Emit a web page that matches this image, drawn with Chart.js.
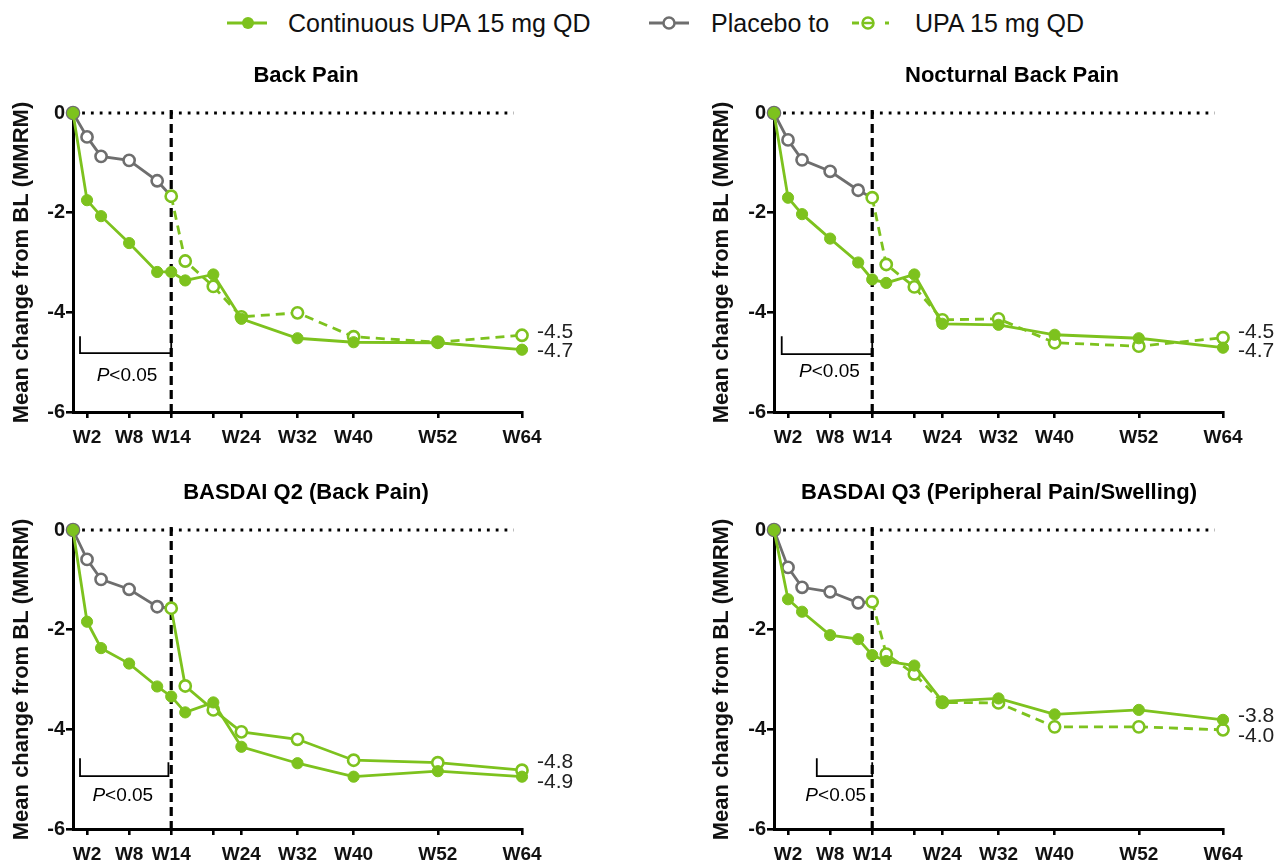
<!DOCTYPE html>
<html>
<head>
<meta charset="utf-8">
<script src="https://cdn.jsdelivr.net/npm/chart.js@4.4.1/dist/chart.umd.min.js"></script>
<style>
  body { margin: 0; background: #fff; font-family: "Liberation Sans", Arial, sans-serif; }
  #page { position: relative; width: 1282px; height: 865px; overflow: hidden; }
  .box { position: absolute; }
  .lg { position: absolute; font-size: 25px; color: #111; line-height: 30px; top: 8px; white-space: nowrap; }
  .ic { position: absolute; top: 13px; }
</style>
</head>
<body>
<div id="page">
  <svg class="ic" style="left:222px" width="50" height="20">
    <line x1="5" y1="10" x2="45" y2="10" stroke="#7dc21e" stroke-width="3"/>
    <circle cx="26" cy="10" r="6" fill="#7dc21e"/>
  </svg>
  <div class="lg" style="left:288px">Continuous UPA 15 mg QD</div>
  <svg class="ic" style="left:644px" width="50" height="20">
    <line x1="5" y1="10" x2="45" y2="10" stroke="#6e6e6e" stroke-width="3"/>
    <circle cx="25" cy="10" r="5.5" fill="#fff" stroke="#6e6e6e" stroke-width="2.5"/>
  </svg>
  <div class="lg" style="left:711px">Placebo to</div>
  <svg class="ic" style="left:846px" width="50" height="20">
    <line x1="6" y1="10" x2="13" y2="10" stroke="#7dc21e" stroke-width="3"/>
    <line x1="39" y1="10" x2="43" y2="10" stroke="#7dc21e" stroke-width="3"/>
    <circle cx="22" cy="10" r="5.5" fill="#fff" stroke="#7dc21e" stroke-width="2.5"/>
    <line x1="17" y1="10" x2="27" y2="10" stroke="#7dc21e" stroke-width="2.5"/>
  </svg>
  <div class="lg" style="left:915px">UPA 15 mg QD</div>

  <div class="box" style="left:0px;top:50px"><canvas id="c1" width="596" height="400"></canvas></div>
  <div class="box" style="left:700px;top:50px"><canvas id="c2" width="582" height="400"></canvas></div>
  <div class="box" style="left:0px;top:467px"><canvas id="c3" width="596" height="398"></canvas></div>
  <div class="box" style="left:700px;top:467px"><canvas id="c4" width="582" height="398"></canvas></div>
</div>
<script>
// study weeks where values were measured
var weeks = [0, 2, 4, 8, 12, 14, 16, 20, 24, 32, 40, 52, 64];
var placeboWeeks = weeks.slice(0, 6);   // BL .. W14
var switchWeeks = weeks.slice(5);       // W14 .. W64

var xTickWeeks = [2, 8, 14, 20, 24, 32, 40, 52, 64];
var xTickLabels = ["W2", "W8", "W14", "", "W24", "W32", "W40", "W52", "W64"];
var yTicks = [0, -2, -4, -6];

// Back Pain
var backCont = [0, -1.75, -2.07, -2.61, -3.19, -3.19, -3.36, -3.24, -4.13, -4.52, -4.60, -4.61, -4.75];
var backPbo = [0, -0.48, -0.87, -0.95, -1.36, -1.67];
var backSw = [-1.67, -2.97, -3.48, -4.09, -4.01, -4.49, -4.60, -4.46];
var backEnd = ["-4.5", "-4.7"];

// Nocturnal Back Pain
var noctCont = [0, -1.70, -2.03, -2.52, -3.00, -3.34, -3.41, -3.24, -4.23, -4.25, -4.45, -4.52, -4.71];
var noctPbo = [0, -0.54, -0.94, -1.17, -1.55, -1.70];
var noctSw = [-1.70, -3.04, -3.49, -4.15, -4.13, -4.61, -4.68, -4.51];
var noctEnd = ["-4.5", "-4.7"];

// BASDAI Q2
var q2Cont = [0, -1.84, -2.37, -2.68, -3.14, -3.34, -3.66, -3.46, -4.35, -4.68, -4.95, -4.84, -4.95];
var q2Pbo = [0, -0.59, -0.99, -1.19, -1.54, -1.57];
var q2Sw = [-1.57, -3.13, -3.61, -4.05, -4.20, -4.62, -4.67, -4.82];
var q2End = ["-4.8", "-4.9"];

// BASDAI Q3
var q3Cont = [0, -1.39, -1.64, -2.11, -2.19, -2.51, -2.63, -2.72, -3.44, -3.38, -3.70, -3.61, -3.81];
var q3Pbo = [0, -0.75, -1.15, -1.24, -1.46, -1.44];
var q3Sw = [-1.44, -2.49, -2.89, -3.46, -3.47, -3.95, -3.95, -4.01];
var q3End = ["-3.8", "-4.0"];

var GREEN = "#7dc21e";
var GREY = "#6e6e6e";
var FONT = "'Liberation Sans', Arial, sans-serif";

function pts(xs, ys) {
    return ys.map(function (v, i) { return { x: xs[i], y: v }; });
}

// extra drawing: reference lines, bracket, titles, end labels
var overlay = {
    id: 'overlay',
    beforeDatasetsDraw: function (chart) {
        var o = chart.options.plugins.overlay;
        var ctx = chart.ctx, x = chart.scales.x, y = chart.scales.y;
        ctx.save();
        ctx.strokeStyle = "#000";
        // dotted zero line
        ctx.lineWidth = 2.8;
        ctx.setLineDash([2.8, 6]);
        ctx.beginPath();
        ctx.moveTo(x.getPixelForValue(1.3), y.getPixelForValue(0));
        ctx.lineTo(x.getPixelForValue(62.8), y.getPixelForValue(0));
        ctx.stroke();
        // bracket
        ctx.setLineDash([]);
        ctx.lineWidth = 1.8;
        ctx.beginPath();
        ctx.moveTo(x.getPixelForValue(o.bracket[0]), y.getPixelForValue(o.bracketY[0]));
        ctx.lineTo(x.getPixelForValue(o.bracket[0]), y.getPixelForValue(o.bracketY[1]));
        ctx.lineTo(x.getPixelForValue(o.bracket[1]), y.getPixelForValue(o.bracketY[1]));
        ctx.lineTo(x.getPixelForValue(o.bracket[1]), y.getPixelForValue(o.bracketY[0] - 0.08));
        ctx.stroke();
        // dashed switch line at W14
        ctx.lineWidth = 3.2;
        ctx.setLineDash([9, 5]);
        var xv = x.getPixelForValue(14);
        ctx.beginPath();
        ctx.moveTo(xv, y.getPixelForValue(0.06));
        ctx.lineTo(xv, chart.chartArea.bottom + 2);
        ctx.stroke();
        ctx.restore();
    },
    afterDraw: function (chart) {
        var o = chart.options.plugins.overlay;
        var ctx = chart.ctx, x = chart.scales.x, y = chart.scales.y;
        ctx.save();
        ctx.fillStyle = "#000";
        ctx.textBaseline = "middle";
        ctx.textAlign = "center";
        ctx.font = "bold 22px " + FONT;
        ctx.fillText(o.title, o.titleX, 26);

        // P<0.05
        ctx.font = "italic 19px " + FONT;
        var wP = ctx.measureText("P").width;
        ctx.font = "19px " + FONT;
        var wR = ctx.measureText("<0.05").width;
        var cx = x.getPixelForValue(o.pX), cy = y.getPixelForValue(o.pY);
        var sx = cx - (wP + wR) / 2;
        ctx.textAlign = "left";
        ctx.font = "italic 19px " + FONT;
        ctx.fillText("P", sx, cy);
        ctx.font = "19px " + FONT;
        ctx.fillText("<0.05", sx + wP, cy);

        // end values
        ctx.fillStyle = "#222";
        ctx.font = "21px " + FONT;
        var ex = x.getPixelForValue(64) + 15;
        ctx.fillText(o.endText[0], ex, y.getPixelForValue(o.endY[0]));
        ctx.fillText(o.endText[1], ex, y.getPixelForValue(o.endY[1]));
        ctx.restore();
    }
};

function makeChart(id, cfg) {
    var ctx = document.getElementById(id).getContext('2d');
    return new Chart(ctx, {
        type: 'line',
        data: {
            datasets: [{
                label: 'Continuous UPA 15 mg QD',
                data: pts(weeks, cfg.cont),
                borderColor: GREEN,
                backgroundColor: GREEN,
                borderWidth: 2.8,
                pointRadius: 5.6,
                pointBorderWidth: 1,
                pointBackgroundColor: GREEN,
                pointBorderColor: GREEN,
                order: 0,
                clip: false
            }, {
                label: 'UPA 15 mg QD',
                data: pts(switchWeeks, cfg.sw),
                borderColor: GREEN,
                borderWidth: 2.8,
                borderDash: cfg.swDash ? [9, 6] : [],
                pointRadius: 5.6,
                pointBorderWidth: 2.6,
                pointBackgroundColor: "#fff",
                pointBorderColor: GREEN,
                order: 1,
                clip: false
            }, {
                label: 'Placebo',
                data: pts(placeboWeeks, cfg.pbo),
                borderColor: GREY,
                borderWidth: 2.8,
                pointRadius: [6, 5.6, 5.6, 5.6, 5.6, 0],
                pointBorderWidth: 2.6,
                pointBackgroundColor: "#fff",
                pointBorderColor: GREY,
                order: 2,
                clip: false
            }]
        },
        options: {
            responsive: false,
            animation: false,
            layout: { padding: { top: 63, right: cfg.padRight, left: 0, bottom: 0 } },
            scales: {
                x: {
                    type: 'linear',
                    min: 0,
                    max: 64,
                    afterBuildTicks: function (s) {
                        s.ticks = xTickWeeks.map(function (v) { return { value: v }; });
                    },
                    afterFit: function (s) { s.height = cfg.xh; },
                    ticks: {
                        autoSkip: false,
                        maxRotation: 0,
                        padding: 8,
                        color: "#111",
                        font: { family: FONT, size: 19, weight: 'bold' },
                        callback: function (v) { return xTickLabels[xTickWeeks.indexOf(v)]; }
                    },
                    grid: { drawOnChartArea: false, color: "#000", lineWidth: 2.6, tickLength: 6 },
                    border: { display: true, color: "#000", width: 3 }
                },
                y: {
                    min: -6,
                    max: 0,
                    afterBuildTicks: function (s) {
                        s.ticks = yTicks.map(function (v) { return { value: v }; });
                    },
                    afterFit: function (s) { s.width = cfg.yw; },
                    ticks: {
                        padding: 1,
                        color: "#111",
                        font: { family: FONT, size: 20, weight: 'bold' },
                        callback: function (v) { return String(v); }
                    },
                    grid: { drawOnChartArea: false, color: "#000", lineWidth: 2.6, tickLength: 7 },
                    border: { display: true, color: "#000", width: 3 },
                    title: {
                        display: true,
                        text: 'Mean change from BL (MMRM)',
                        color: "#111",
                        padding: { top: 9, bottom: 0 },
                        font: { family: FONT, size: 22, weight: 'bold' }
                    }
                }
            },
            plugins: {
                legend: { display: false },
                tooltip: { enabled: false },
                overlay: cfg.overlay
            }
        },
        plugins: [overlay]
    });
}

makeChart('c1', {
    cont: backCont, pbo: backPbo, sw: backSw, swDash: true,
    yw: 73, xh: 38, padRight: 74,
    overlay: { title: 'Back Pain', titleX: 306, bracket: [1, 14], bracketY: [-4.48, -4.82],
               pX: 7.7, pY: -5.28, endText: backEnd, endY: [-4.4, -4.78] }
});
makeChart('c2', {
    cont: noctCont, pbo: noctPbo, sw: noctSw, swDash: true,
    yw: 74, xh: 38, padRight: 59,
    overlay: { title: 'Nocturnal Back Pain', titleX: 312, bracket: [1.1, 14], bracketY: [-4.48, -4.84],
               pX: 7.9, pY: -5.2, endText: noctEnd, endY: [-4.4, -4.78] }
});
makeChart('c3', {
    cont: q2Cont, pbo: q2Pbo, sw: q2Sw, swDash: false,
    yw: 73, xh: 36, padRight: 74,
    overlay: { title: 'BASDAI Q2 (Back Pain)', titleX: 306, bracket: [1, 13.6], bracketY: [-4.58, -4.94],
               pX: 7.1, pY: -5.34, endText: q2End, endY: [-4.66, -5.06] }
});
makeChart('c4', {
    cont: q3Cont, pbo: q3Pbo, sw: q3Sw, swDash: true,
    yw: 74, xh: 36, padRight: 59,
    overlay: { title: 'BASDAI Q3 (Peripheral Pain/Swelling)', titleX: 299, bracket: [6.1, 14], bracketY: [-4.58, -4.94],
               pX: 8.8, pY: -5.34, endText: q3End, endY: [-3.74, -4.14] }
});
</script>
</body>
</html>
